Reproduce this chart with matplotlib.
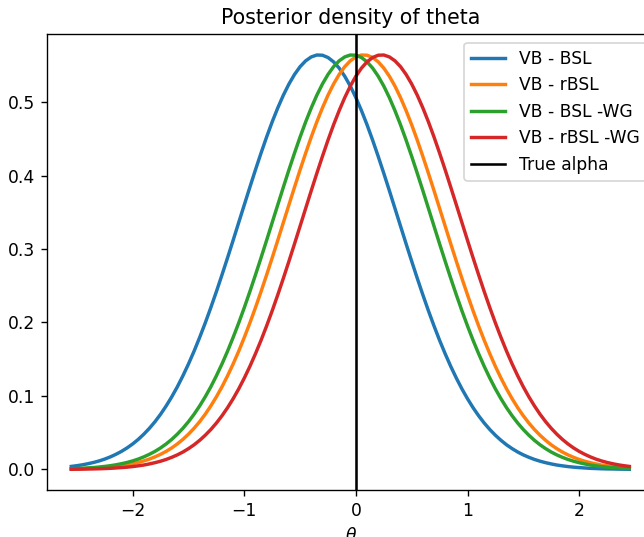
import numpy as np
import matplotlib
matplotlib.use("Agg")
import matplotlib.pyplot as plt

# grid of theta values (step 0.05, -2.55 .. 2.45)
theta = np.round(np.arange(-51, 50) / 20, 2)

# posterior densities (one value per theta)
vb_bsl = [0.0041, 0.0051, 0.0063, 0.0078, 0.0095, 0.0116, 0.0141, 0.0171, 0.0206, 0.0246,
          0.0293, 0.0347, 0.0409, 0.0480, 0.0560, 0.0650, 0.0751, 0.0864, 0.0988, 0.1124,
          0.1274, 0.1435, 0.1609, 0.1796, 0.1993, 0.2202, 0.2420, 0.2647, 0.2880, 0.3118,
          0.3360, 0.3601, 0.3841, 0.4077, 0.4305, 0.4524, 0.4730, 0.4920, 0.5093, 0.5245,
          0.5375, 0.5481, 0.5561, 0.5614, 0.5640,
          0.5637, 0.5606, 0.5547, 0.5462, 0.5351, 0.5217, 0.5060, 0.4883, 0.4690, 0.4481,
          0.4260, 0.4030, 0.3794, 0.3553, 0.3311, 0.3070, 0.2833, 0.2601, 0.2376, 0.2159,
          0.1953, 0.1757, 0.1574, 0.1402, 0.1243, 0.1096, 0.0962, 0.0840, 0.0730, 0.0631,
          0.0543, 0.0465, 0.0396, 0.0335, 0.0283, 0.0237, 0.0198, 0.0165, 0.0136, 0.0112,
          0.0092, 0.0075, 0.0060, 0.0049, 0.0039, 0.0031, 0.0025, 0.0020, 0.0015, 0.0012,
          0.0009, 0.0007, 0.0006, 0.0004, 0.0003, 0.0002]
vb_rbsl = [0.0006, 0.0008, 0.0010, 0.0013, 0.0016, 0.0021, 0.0026, 0.0033, 0.0041,
           0.0051, 0.0063, 0.0078, 0.0095, 0.0116, 0.0141, 0.0171, 0.0206, 0.0246, 0.0293,
           0.0347, 0.0409, 0.0480, 0.0560, 0.0650, 0.0751, 0.0864, 0.0988, 0.1124, 0.1274,
           0.1435, 0.1609, 0.1796, 0.1993, 0.2202, 0.2420, 0.2647, 0.2880, 0.3118, 0.3360,
           0.3601, 0.3841, 0.4077, 0.4305, 0.4524, 0.4730, 0.4920, 0.5093, 0.5245, 0.5375,
           0.5481, 0.5561, 0.5614, 0.5640,
           0.5637, 0.5606, 0.5547, 0.5462, 0.5351, 0.5217, 0.5060, 0.4883, 0.4690, 0.4481,
           0.4260, 0.4030, 0.3794, 0.3553, 0.3311, 0.3070, 0.2833, 0.2601, 0.2376, 0.2159,
           0.1953, 0.1757, 0.1574, 0.1402, 0.1243, 0.1096, 0.0962, 0.0840, 0.0730, 0.0631,
           0.0543, 0.0465, 0.0396, 0.0335, 0.0283, 0.0237, 0.0198, 0.0165, 0.0136, 0.0112,
           0.0092, 0.0075, 0.0060, 0.0049, 0.0039, 0.0031, 0.0025, 0.0020]
vb_bsl_wg = [0.0010, 0.0013, 0.0016, 0.0021, 0.0026, 0.0033, 0.0041,
             0.0051, 0.0063, 0.0078, 0.0095, 0.0116, 0.0141, 0.0171, 0.0206, 0.0246, 0.0293,
             0.0347, 0.0409, 0.0480, 0.0560, 0.0650, 0.0751, 0.0864, 0.0988, 0.1124, 0.1274,
             0.1435, 0.1609, 0.1796, 0.1993, 0.2202, 0.2420, 0.2647, 0.2880, 0.3118, 0.3360,
             0.3601, 0.3841, 0.4077, 0.4305, 0.4524, 0.4730, 0.4920, 0.5093, 0.5245, 0.5375,
             0.5481, 0.5561, 0.5614, 0.5640,
             0.5637, 0.5606, 0.5547, 0.5462, 0.5351, 0.5217, 0.5060, 0.4883, 0.4690, 0.4481,
             0.4260, 0.4030, 0.3794, 0.3553, 0.3311, 0.3070, 0.2833, 0.2601, 0.2376, 0.2159,
             0.1953, 0.1757, 0.1574, 0.1402, 0.1243, 0.1096, 0.0962, 0.0840, 0.0730, 0.0631,
             0.0543, 0.0465, 0.0396, 0.0335, 0.0283, 0.0237, 0.0198, 0.0165, 0.0136, 0.0112,
             0.0092, 0.0075, 0.0060, 0.0049, 0.0039, 0.0031, 0.0025, 0.0020, 0.0015, 0.0012]
vb_rbsl_wg = [0.0002, 0.0003, 0.0004, 0.0006, 0.0007, 0.0009, 0.0012, 0.0015, 0.0020, 0.0025,
              0.0031, 0.0039, 0.0049, 0.0060, 0.0075, 0.0092, 0.0112, 0.0136, 0.0165, 0.0198,
              0.0237, 0.0283, 0.0335, 0.0396, 0.0465, 0.0543, 0.0631, 0.0730, 0.0840, 0.0962,
              0.1096, 0.1243, 0.1402, 0.1574, 0.1757, 0.1953, 0.2159, 0.2376, 0.2601, 0.2833,
              0.3070, 0.3311, 0.3553, 0.3794, 0.4030, 0.4260, 0.4481, 0.4690, 0.4883, 0.5060,
              0.5217, 0.5351, 0.5462, 0.5547, 0.5606, 0.5637,
              0.5640, 0.5614, 0.5561, 0.5481, 0.5375, 0.5245, 0.5093, 0.4920, 0.4730, 0.4524,
              0.4305, 0.4077, 0.3841, 0.3601, 0.3360, 0.3118, 0.2880, 0.2647, 0.2420, 0.2202,
              0.1993, 0.1796, 0.1609, 0.1435, 0.1274, 0.1124, 0.0988, 0.0864, 0.0751, 0.0650,
              0.0560, 0.0480, 0.0409, 0.0347, 0.0293, 0.0246, 0.0206, 0.0171, 0.0141, 0.0116,
              0.0095, 0.0078, 0.0063, 0.0051, 0.0041]
true_alpha = 0.0

labels = ['VB - BSL', 'VB - rBSL', 'VB - BSL -WG', 'VB - rBSL -WG']
series = [vb_bsl, vb_rbsl, vb_bsl_wg, vb_rbsl_wg]

dpi = 123
fig = plt.figure(figsize=(644 / dpi, 537 / dpi), dpi=dpi)
# axes run past the right edge, like the cropped original
ax = fig.add_axes([47.3 / 644, 47 / 537, 607.7 / 644, 455.7 / 537])

for dens, lab in zip(series, labels):
    ax.plot(theta, dens, lw=2, label=lab)
ax.axvline(true_alpha, color='black', lw=1.5, label='True alpha')

ax.set_xlim(-2.765, 2.68)
ax.set_title('Posterior density of theta')
ax.set_xlabel(r'$\theta$')
ax.legend(loc='upper right')

fig.savefig('out.png', dpi=dpi)
